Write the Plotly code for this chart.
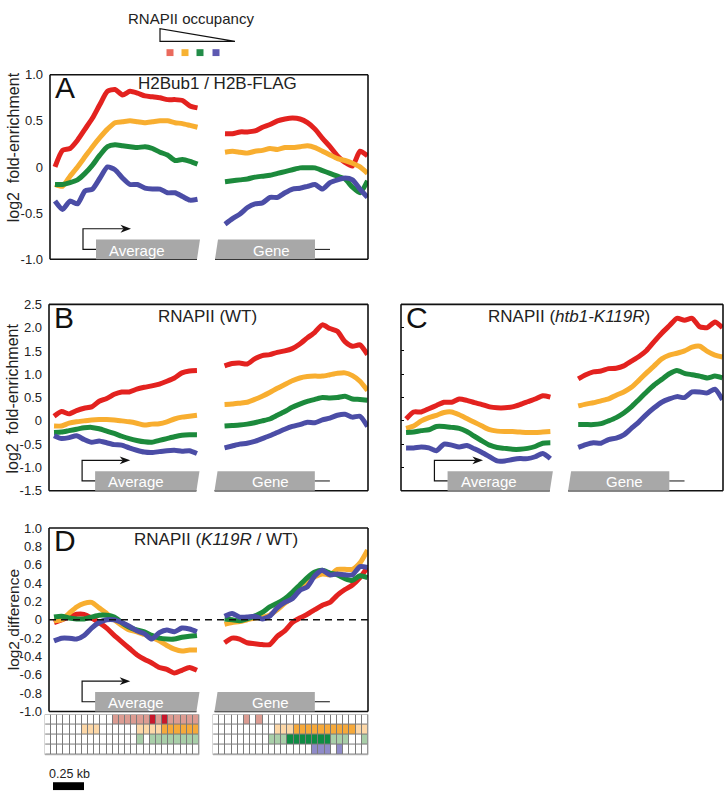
import plotly.graph_objects as go

W, H = 728, 802
FONT = "Liberation Sans, Arial, sans-serif"

COL = {"red": "#e3221f", "orange": "#f8ae30", "green": "#1c8a3c", "blue": "#4b4da6"}
ORDER = ["red", "orange", "green", "blue"]

# bin positions along the averaged gene (left half: around TSS, right half: gene end)
x_left = [i * 1.5 for i in range(20)]
x_right = [34 + i * 1.5 for i in range(20)]

# ---------------- Panel A : H2Bub1 / H2B-FLAG ----------------
A_red_L = [0.00, 0.18, 0.20, 0.29, 0.41, 0.53, 0.68, 0.82, 0.84, 0.78, 0.82, 0.80, 0.77, 0.76, 0.75, 0.73, 0.73, 0.72, 0.66, 0.64]
A_red_R = [0.36, 0.36, 0.38, 0.38, 0.39, 0.43, 0.46, 0.50, 0.52, 0.53, 0.52, 0.48, 0.41, 0.31, 0.22, 0.12, 0.05, 0.01, 0.17, 0.12]
A_orange_L = [-0.19, -0.21, -0.10, 0.00, 0.11, 0.22, 0.32, 0.41, 0.48, 0.49, 0.50, 0.49, 0.48, 0.49, 0.50, 0.50, 0.48, 0.47, 0.45, 0.43]
A_orange_R = [0.16, 0.17, 0.16, 0.15, 0.17, 0.18, 0.20, 0.19, 0.21, 0.21, 0.22, 0.23, 0.21, 0.17, 0.13, 0.09, 0.07, 0.04, 0.00, -0.07]
A_green_L = [-0.19, -0.19, -0.17, -0.14, -0.07, 0.02, 0.13, 0.22, 0.24, 0.23, 0.22, 0.21, 0.22, 0.20, 0.16, 0.13, 0.07, 0.08, 0.06, 0.03]
A_green_R = [-0.16, -0.15, -0.14, -0.13, -0.11, -0.10, -0.09, -0.07, -0.05, -0.03, -0.01, -0.01, -0.01, -0.04, -0.07, -0.10, -0.13, -0.22, -0.28, -0.15]
A_blue_L = [-0.37, -0.46, -0.37, -0.40, -0.26, -0.24, -0.12, 0.00, -0.03, -0.12, -0.19, -0.19, -0.23, -0.24, -0.24, -0.28, -0.28, -0.32, -0.36, -0.35]
A_blue_R = [-0.62, -0.56, -0.51, -0.44, -0.40, -0.39, -0.33, -0.33, -0.28, -0.24, -0.23, -0.21, -0.19, -0.24, -0.17, -0.14, -0.12, -0.14, -0.24, -0.33]

# ---------------- Panel B : RNAPII (WT) ----------------
B_red_L = [0.10, 0.20, 0.15, 0.22, 0.27, 0.30, 0.42, 0.48, 0.57, 0.62, 0.62, 0.68, 0.72, 0.75, 0.79, 0.85, 0.92, 1.03, 1.07, 1.08]
B_red_R = [1.18, 1.23, 1.24, 1.22, 1.33, 1.40, 1.42, 1.47, 1.50, 1.55, 1.65, 1.78, 1.90, 2.06, 1.98, 1.92, 1.70, 1.60, 1.63, 1.42]
B_orange_L = [-0.11, -0.11, -0.05, -0.02, 0.00, 0.02, 0.03, 0.03, 0.02, 0.00, -0.02, -0.05, -0.09, -0.07, -0.06, -0.02, 0.04, 0.08, 0.10, 0.12]
B_orange_R = [0.35, 0.36, 0.38, 0.40, 0.46, 0.53, 0.61, 0.70, 0.78, 0.86, 0.92, 0.95, 0.96, 0.96, 0.99, 1.02, 1.03, 0.97, 0.85, 0.65]
B_green_L = [-0.25, -0.24, -0.21, -0.18, -0.15, -0.14, -0.17, -0.22, -0.27, -0.33, -0.38, -0.42, -0.45, -0.46, -0.42, -0.38, -0.34, -0.31, -0.30, -0.30]
B_green_R = [-0.11, -0.10, -0.09, -0.07, -0.04, 0.00, 0.04, 0.12, 0.20, 0.29, 0.36, 0.42, 0.46, 0.50, 0.49, 0.50, 0.53, 0.47, 0.46, 0.44]
B_blue_L = [-0.32, -0.38, -0.36, -0.32, -0.40, -0.46, -0.43, -0.47, -0.51, -0.52, -0.58, -0.63, -0.67, -0.68, -0.66, -0.64, -0.63, -0.65, -0.64, -0.70]
B_blue_R = [-0.58, -0.54, -0.50, -0.48, -0.44, -0.38, -0.32, -0.25, -0.18, -0.12, -0.08, -0.03, -0.04, 0.02, 0.06, 0.12, 0.14, 0.08, 0.10, -0.12]

# ---------------- Panel C : RNAPII (htb1-K119R) ----------------
C_red_L = [0.04, 0.19, 0.19, 0.26, 0.33, 0.40, 0.40, 0.47, 0.44, 0.39, 0.35, 0.30, 0.28, 0.28, 0.30, 0.35, 0.41, 0.47, 0.54, 0.51]
C_red_R = [0.90, 0.99, 1.05, 1.07, 1.12, 1.13, 1.18, 1.28, 1.38, 1.51, 1.70, 1.88, 2.04, 2.20, 2.16, 2.20, 2.02, 2.00, 2.12, 2.00]
C_orange_L = [-0.16, -0.11, 0.00, 0.07, 0.12, 0.18, 0.19, 0.13, 0.05, -0.03, -0.11, -0.19, -0.22, -0.23, -0.23, -0.24, -0.25, -0.25, -0.24, -0.23]
C_orange_R = [0.32, 0.36, 0.39, 0.43, 0.47, 0.55, 0.62, 0.72, 0.87, 1.03, 1.18, 1.33, 1.41, 1.45, 1.50, 1.58, 1.60, 1.49, 1.41, 1.37]
C_green_L = [-0.25, -0.24, -0.21, -0.19, -0.12, -0.12, -0.14, -0.16, -0.23, -0.33, -0.43, -0.52, -0.57, -0.59, -0.61, -0.61, -0.59, -0.55, -0.48, -0.47]
C_green_R = [-0.08, -0.08, -0.08, -0.06, 0.00, 0.07, 0.17, 0.30, 0.46, 0.62, 0.77, 0.89, 1.01, 1.08, 1.02, 0.99, 0.96, 0.92, 0.96, 0.92]
C_blue_L = [-0.58, -0.58, -0.56, -0.58, -0.64, -0.50, -0.52, -0.56, -0.53, -0.60, -0.68, -0.77, -0.86, -0.86, -0.83, -0.81, -0.81, -0.77, -0.70, -0.81]
C_blue_R = [-0.57, -0.51, -0.47, -0.48, -0.40, -0.37, -0.30, -0.16, -0.02, 0.14, 0.28, 0.40, 0.47, 0.52, 0.50, 0.62, 0.62, 0.60, 0.68, 0.45]

# ---------------- Panel D : RNAPII (K119R / WT) ----------------
D_red_L = [-0.03, 0.00, 0.03, 0.06, 0.06, 0.02, -0.03, -0.09, -0.17, -0.24, -0.31, -0.38, -0.43, -0.47, -0.52, -0.54, -0.58, -0.55, -0.52, -0.55]
D_red_R = [-0.25, -0.20, -0.21, -0.25, -0.26, -0.27, -0.27, -0.18, -0.12, -0.03, 0.02, 0.06, 0.11, 0.16, 0.19, 0.27, 0.33, 0.38, 0.46, 0.57]
D_orange_L = [-0.01, 0.00, 0.07, 0.14, 0.18, 0.19, 0.13, 0.07, 0.00, -0.06, -0.11, -0.13, -0.16, -0.19, -0.23, -0.28, -0.32, -0.34, -0.33, -0.33]
D_orange_R = [-0.05, -0.03, -0.02, 0.00, 0.02, 0.03, 0.05, 0.11, 0.18, 0.24, 0.33, 0.42, 0.47, 0.50, 0.49, 0.55, 0.55, 0.55, 0.62, 0.76]
D_green_L = [0.03, 0.04, 0.02, 0.01, 0.01, 0.03, 0.05, 0.05, 0.03, -0.03, -0.08, -0.11, -0.13, -0.17, -0.20, -0.21, -0.21, -0.19, -0.18, -0.17]
D_green_R = [0.01, 0.00, -0.01, 0.01, 0.04, 0.08, 0.14, 0.18, 0.23, 0.30, 0.38, 0.46, 0.52, 0.54, 0.51, 0.49, 0.45, 0.43, 0.48, 0.46]
D_blue_L = [-0.23, -0.20, -0.20, -0.21, -0.17, -0.09, -0.03, 0.00, 0.00, -0.03, -0.07, -0.12, -0.15, -0.21, -0.14, -0.11, -0.13, -0.09, -0.10, -0.13]
D_blue_R = [0.04, 0.07, 0.03, 0.03, 0.04, 0.01, 0.04, 0.13, 0.19, 0.23, 0.32, 0.36, 0.48, 0.54, 0.49, 0.50, 0.49, 0.49, 0.58, 0.57]

# ---------------- significance grid (rows: red, orange, green, blue) ----------------
# codes: 0 none, 1 light red, 2 dark red, 3 light orange, 4 orange, 5 light green, 6 dark green, 7 purple
grid_left = [
    [0, 0, 0, 0, 0, 0, 0, 0, 0, 0, 0, 1, 1, 1, 1, 1, 1, 2, 1, 2, 1, 1, 1, 1, 1],
    [0, 0, 0, 0, 0, 0, 3, 3, 3, 0, 0, 0, 0, 0, 0, 3, 3, 3, 3, 4, 4, 4, 4, 4, 4],
    [0, 0, 0, 0, 0, 0, 0, 0, 0, 0, 0, 0, 0, 0, 0, 5, 0, 5, 5, 5, 5, 5, 5, 5, 5],
    [0, 0, 0, 0, 0, 0, 0, 0, 0, 0, 0, 0, 0, 0, 0, 0, 0, 0, 0, 0, 0, 0, 0, 0, 0],
]
grid_right = [
    [0, 0, 0, 0, 0, 1, 0, 1, 0, 0, 0, 0, 0, 0, 0, 0, 0, 0, 0, 0, 0, 0, 0, 0, 0],
    [0, 0, 0, 0, 0, 0, 0, 0, 0, 0, 3, 3, 3, 4, 4, 4, 4, 4, 4, 4, 4, 4, 4, 3, 3],
    [0, 0, 0, 0, 0, 0, 0, 0, 0, 5, 5, 5, 6, 6, 6, 6, 6, 6, 6, 5, 5, 5, 0, 0, 5],
    [0, 0, 0, 0, 0, 0, 0, 0, 0, 0, 0, 0, 0, 0, 0, 0, 7, 7, 7, 0, 7, 0, 0, 0, 0],
]
grid_colors = ["#ffffff", "#dc9c92", "#c8172b", "#fdd8a8", "#f6a93a", "#a9cfa9", "#0f8c44", "#8f8bc9"]

YT = "log2\u00a0\u00a0fold-enrichment"
panels = [
    dict(key="A", L=50, T=69, R=368, B=257, yr=[-1, 1],
         tv=[1, 0.5, 0, -0.5, -1], tt=["1.0", "0.5", "0", "-0.5", "-1.0"],
         title="H2Bub1 / H2B-FLAG", tx=217, ty=78, ytitle=YT, yty=143,
         data=[(A_red_L, A_red_R), (A_orange_L, A_orange_R), (A_green_L, A_green_R), (A_blue_L, A_blue_R)]),
    dict(key="B", L=49, T=303, R=368, B=493, yr=[-1.5, 2.5],
         tv=[2.5, 2, 1.5, 1, 0.5, 0, -0.5, -1, -1.5],
         tt=["2.5", "2.0", "1.5", "1.0", "0.5", "0", "-0.5", "-1.0", "-1.5"],
         title="RNAPII (WT)", tx=207, ty=315, ytitle=YT, yty=399,
         data=[(B_red_L, B_red_R), (B_orange_L, B_orange_R), (B_green_L, B_green_R), (B_blue_L, B_blue_R)]),
    dict(key="C", L=401, T=303, R=723, B=493, yr=[-1.5, 2.5],
         tv=[2.5, 2, 1.5, 1, 0.5, 0, -0.5, -1, -1.5], tt=None,
         title="RNAPII (<i>htb1-K119R</i>)", tx=569, ty=315, ytitle=None, yty=None,
         data=[(C_red_L, C_red_R), (C_orange_L, C_orange_R), (C_green_L, C_green_R), (C_blue_L, C_blue_R)]),
    dict(key="D", L=49, T=531, R=368, B=718, yr=[-1, 1],
         tv=[1, 0.8, 0.6, 0.4, 0.2, 0, -0.2, -0.4, -0.6, -0.8, -1],
         tt=["1.0", "0.8", "0.6", "0.4", "0.2", "0", "-0.2", "-0.4", "-0.6", "-0.8", "-1.0"],
         title="RNAPII (<i>K119R</i> / WT)", tx=216, ty=543, ytitle="log2 difference", yty=625,
         data=[(D_red_L, D_red_R), (D_orange_L, D_orange_R), (D_green_L, D_green_R), (D_blue_L, D_blue_R)]),
]

XR = [-1, 62.6]
# cartoon geometry in bin units
TSS_X, TIP_X = 5.6, 15.2
BOX1_L, BOX1_TR, BOX1_BR = 8.2, 29.0, 28.4
BOX2_TL, BOX2_BL, BOX2_R, TAIL_X = 32.6, 32.0, 52.0, 55.0


def fx(px):
    return px / W


def fy(py):
    return 1 - py / H


def text(x, y, s, size, color="#222", **kw):
    d = dict(xref="paper", yref="paper", x=x, y=y, text=s, showarrow=False,
             xanchor="center", yanchor="middle", font=dict(family=FONT, size=size, color=color))
    d.update(kw)
    return d


fig = go.Figure()
shapes, annos = [], []
layout = {}

for i, p in enumerate(panels):
    n = "" if i == 0 else str(i + 1)
    xref, yref = "x" + n, "y" + n
    for (yl, yrr), cname in zip(p["data"], ORDER):
        for xs, ys in ((x_left, yl), (x_right, yrr)):
            fig.add_trace(go.Scatter(x=xs, y=ys, mode="lines", xaxis=xref, yaxis=yref,
                                     line=dict(color=COL[cname], width=5, shape="spline", smoothing=0.6),
                                     hoverinfo="skip", showlegend=False))
    layout["xaxis" + n] = dict(domain=[fx(p["L"]), fx(p["R"])], range=XR, visible=False, anchor=yref)
    ya = dict(domain=[fy(p["B"]), fy(p["T"])], range=p["yr"], anchor=xref, showgrid=False,
              zeroline=False, showline=False, tickvals=p["tv"], tickfont=dict(size=13, family=FONT, color="#222"))
    if p["tt"] is None:
        ya.update(showticklabels=False, ticks="inside", ticklen=3, tickcolor="#000", tickwidth=1)
    else:
        ya.update(ticktext=p["tt"], ticks="", ticklabelstandoff=6)
    layout["yaxis" + n] = ya

    L, T, R, B = p["L"], p["T"], p["R"], p["B"]
    blk = dict(color="#111", width=1.6)
    # frame (bottom edge broken between the two halves)
    shapes.append(dict(type="line", xref="paper", yref="paper", x0=fx(L), x1=fx(R), y0=fy(T), y1=fy(T), line=blk))
    shapes.append(dict(type="line", xref="paper", yref="paper", x0=fx(L), x1=fx(L), y0=fy(T), y1=fy(B), line=blk))
    shapes.append(dict(type="line", xref="paper", yref="paper", x0=fx(R), x1=fx(R), y0=fy(T), y1=fy(B), line=blk))
    shapes.append(dict(type="line", xref=xref, yref="paper", x0=XR[0], x1=BOX1_BR, y0=fy(B), y1=fy(B), line=blk))
    shapes.append(dict(type="line", xref=xref, yref="paper", x0=BOX2_BL, x1=XR[1], y0=fy(B), y1=fy(B), line=blk))
    # gene cartoon
    yb, yt, ym, ya_ = fy(B), fy(B - 20), fy(B - 10), fy(B - 31)
    shapes.append(dict(type="path", xref=xref, yref="paper", fillcolor="#a8a8a8", line=dict(width=0),
                       path=f"M {BOX1_L},{yb} L {BOX1_L},{yt} L {BOX1_TR},{yt} L {BOX1_BR},{yb} Z"))
    shapes.append(dict(type="path", xref=xref, yref="paper", fillcolor="#a8a8a8", line=dict(width=0),
                       path=f"M {BOX2_BL},{yb} L {BOX2_TL},{yt} L {BOX2_R},{yt} L {BOX2_R},{yb} Z"))
    shapes.append(dict(type="line", xref=xref, yref="paper", x0=BOX2_R, x1=TAIL_X, y0=ym, y1=ym,
                       line=dict(color="#111", width=1)))
    shapes.append(dict(type="path", xref=xref, yref="paper", line=dict(color="#111", width=1.2),
                       path=f"M {BOX1_L},{ym} L {TSS_X},{ym} L {TSS_X},{ya_} L {TIP_X - 1.5},{ya_}"))
    shapes.append(dict(type="path", xref=xref, yref="paper", fillcolor="#111", line=dict(width=0),
                       path=f"M {TIP_X},{ya_} L {TIP_X - 2.1},{fy(B - 35)} L {TIP_X - 1.5},{ya_} L {TIP_X - 2.1},{fy(B - 27)} Z"))
    annos.append(text(16.4, fy(B - 9), "Average", 15, "white", xref=xref))
    annos.append(text(43.2, fy(B - 9), "Gene", 15, "white", xref=xref))
    # titles & letters
    annos.append(text(fx(p["tx"]), fy(p["ty"]), p["title"], 17))
    annos.append(text(fx(L + 3), fy(T + 13), p["key"], 30, "#111", xanchor="left"))
    if p["ytitle"]:
        annos.append(text(fx(13), fy(p["yty"]), p["ytitle"], 16 if i < 3 else 15.5, textangle=-90))

# dashed zero line in panel D
shapes.append(dict(type="line", xref="x4 domain", yref="y4", x0=0, x1=1, y0=0, y1=0,
                   line=dict(color="#111", width=1.5, dash="7px,5px")))

# significance grids
cs = []
for k, c in enumerate(grid_colors):
    cs += [[k / len(grid_colors), c], [(k + 1) / len(grid_colors), c]]
for n, grid, (gl, gr) in (("5", grid_left, (45, 199)), ("6", grid_right, (213, 368))):
    fig.add_trace(go.Heatmap(z=grid, x=list(range(25)), y=[0, 1, 2, 3], xaxis="x" + n, yaxis="y" + n,
                             colorscale=cs, zmin=-0.5, zmax=len(grid_colors) - 0.5, showscale=False,
                             xgap=1, ygap=1, hoverinfo="skip"))
    layout["xaxis" + n] = dict(domain=[fx(gl), fx(gr)], range=[-0.5, 24.5], visible=False, anchor="y" + n)
    layout["yaxis" + n] = dict(domain=[fy(762), fy(721)], range=[3.5, -0.5], visible=False, anchor="x" + n)
    shapes.append(dict(type="rect", xref=f"x{n} domain", yref=f"y{n} domain", x0=0, x1=1, y0=0, y1=1,
                       fillcolor="#7a7a7a", line=dict(color="#b0b0b0", width=1), layer="below"))

# occupancy legend at top
annos.append(text(fx(191), fy(12), "RNAPII occupancy", 15))
shapes.append(dict(type="path", xref="paper", yref="paper", line=dict(color="#111", width=1.2),
                   path=f"M {fx(160)},{fy(22)} L {fx(160)},{fy(35)} L {fx(235)},{fy(35)} Z"))
for cx, c in zip((170, 185, 200, 216), ("#ea6a5d", "#f7b233", "#228c48", "#5d59b1")):
    shapes.append(dict(type="rect", xref="paper", yref="paper", x0=fx(cx - 3.5), x1=fx(cx + 3.5),
                       y0=fy(50), y1=fy(43), fillcolor=c, line=dict(width=0)))

# scale bar
annos.append(text(fx(69), fy(782), "0.25 kb", 12.5))
shapes.append(dict(type="rect", xref="paper", yref="paper", x0=fx(53), x1=fx(84), y0=fy(798), y1=fy(790),
                   fillcolor="#000", line=dict(width=0)))

fig.update_layout(width=W, height=H, autosize=False, margin=dict(l=0, r=0, t=0, b=0),
                  paper_bgcolor="white", plot_bgcolor="white", showlegend=False,
                  shapes=shapes, annotations=annos, font=dict(family=FONT), **layout)
fig.write_html("out.html", config={"displayModeBar": False},
               post_script="document.body.style.margin='0';document.body.style.overflow='hidden';")
